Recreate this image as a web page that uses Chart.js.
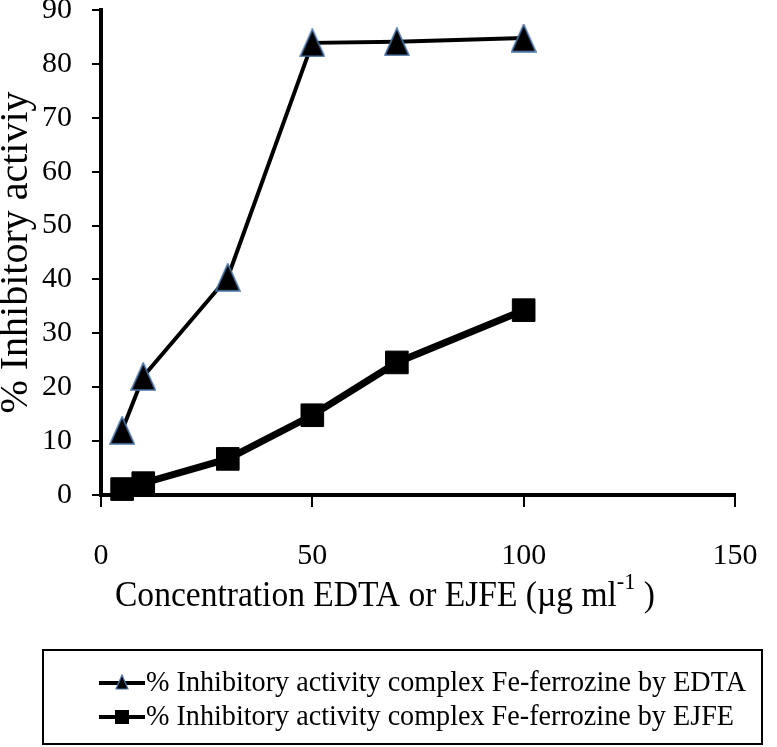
<!DOCTYPE html>
<html>
<head>
<meta charset="utf-8">
<script src="https://cdn.jsdelivr.net/npm/chart.js@4.4.1/dist/chart.umd.min.js"></script>
<style>
  html, body { margin: 0; padding: 0; background: #ffffff; }
  canvas { display: block; }
</style>
</head>
<body>
<canvas id="c" width="777" height="747"></canvas>
<script>
// ---- data ----
const concentrations = [5, 10, 30, 50, 70, 100];
const edtaValues = [12, 22, 40.4, 83.9, 84.1, 84.8];
const ejfeValues = [1.1, 2.2, 6.7, 14.8, 24.6, 34.3];
const xTicks = [0, 50, 100, 150];
const yTicks = [0, 10, 20, 30, 40, 50, 60, 70, 80, 90];
const seriesLabels = [
  '% Inhibitory activity complex Fe-ferrozine by EDTA',
  '% Inhibitory activity complex Fe-ferrozine by EJFE'
];
const yTitle = '% Inhibitory activiy';
const xTitleMain = 'Concentration EDTA or EJFE (\u00B5g ml';
const xTitleSup = '-1';
const xTitleEnd = ' )';

const SERIF = '"Liberation Serif", "Times New Roman", serif';

function triangleImage(w, h, lw) {
  const c = document.createElement('canvas');
  c.width = w + 2; c.height = h + 2;
  const g = c.getContext('2d');
  g.beginPath();
  g.moveTo(c.width / 2, 1);
  g.lineTo(c.width - 1, c.height - 1);
  g.lineTo(1, c.height - 1);
  g.closePath();
  g.fillStyle = '#000000';
  g.fill();
  g.lineWidth = lw;
  g.strokeStyle = '#4a73a6';
  g.stroke();
  return c;
}
const triMarker = triangleImage(24, 27, 1.6);
const triLegend = triangleImage(12, 14, 1.2);

const toPoints = (xs, ys) => xs.map((x, i) => ({ x: x, y: ys[i] }));

const extrasPlugin = {
  id: 'extras',
  afterDraw(chart) {
    const ctx = chart.ctx;
    ctx.save();
    // x axis title with superscript
    ctx.fillStyle = '#000';
    ctx.textBaseline = 'alphabetic';
    ctx.font = '36px ' + SERIF;
    const w1 = ctx.measureText(xTitleMain).width;
    ctx.font = '24px ' + SERIF;
    const w2 = ctx.measureText(xTitleSup).width;
    ctx.font = '36px ' + SERIF;
    const w3 = ctx.measureText(xTitleEnd).width;
    const total = w1 + w2 + w3;
    const sx = 540 / total;
    ctx.save();
    ctx.translate(115, 606);
    ctx.scale(sx, 1);
    ctx.textAlign = 'left';
    ctx.font = '36px ' + SERIF;
    ctx.fillText(xTitleMain, 0, 0);
    ctx.font = '24px ' + SERIF;
    ctx.fillText(xTitleSup, w1, -17);
    ctx.font = '36px ' + SERIF;
    ctx.fillText(xTitleEnd, w1 + w2, 0);
    ctx.restore();

    // legend box
    ctx.lineWidth = 2;
    ctx.strokeStyle = '#000';
    ctx.strokeRect(43, 650, 719, 94);
    const ds = chart.data.datasets;
    const rows = [683, 717];
    rows.forEach((ry, i) => {
      ctx.beginPath();
      ctx.moveTo(99, ry);
      ctx.lineTo(145, ry);
      ctx.lineWidth = 4;
      ctx.strokeStyle = '#000';
      ctx.stroke();
      if (i === 0) {
        ctx.drawImage(triLegend, 122 - triLegend.width / 2, ry - triLegend.height / 2 - 1);
      } else {
        ctx.fillStyle = '#000';
        ctx.fillRect(115, ry - 7, 14, 14);
      }
      ctx.fillStyle = '#000';
      ctx.font = '29px ' + SERIF;
      ctx.textBaseline = 'middle';
      ctx.textAlign = 'left';
      const tw = ctx.measureText(ds[i].label).width;
      const target = i === 0 ? 600 : 588;
      ctx.save();
      ctx.translate(146, ry);
      ctx.scale(target / tw, 1);
      ctx.fillText(ds[i].label, 0, 0);
      ctx.restore();
    });
    ctx.restore();
  }
};

new Chart(document.getElementById('c'), {
  type: 'line',
  data: {
    datasets: [
      {
        label: seriesLabels[0],
        data: toPoints(concentrations, edtaValues),
        borderColor: '#000000',
        borderWidth: 4,
        pointStyle: triMarker,
        pointRadius: 12,
        pointHoverRadius: 12,
        tension: 0,
        fill: false,
        clip: false
      },
      {
        label: seriesLabels[1],
        data: toPoints(concentrations, ejfeValues),
        borderColor: '#000000',
        borderWidth: 7,
        pointStyle: 'rect',
        pointRadius: 16,
        pointHoverRadius: 16,
        pointBackgroundColor: '#000000',
        pointBorderColor: '#000000',
        pointBorderWidth: 1,
        tension: 0,
        fill: false,
        clip: false
      }
    ]
  },
  options: {
    responsive: false,
    animation: false,
    devicePixelRatio: 1,
    layout: { autoPadding: false, padding: { top: 10, right: 42, bottom: 0, left: 0 } },
    plugins: {
      legend: { display: false },
      tooltip: { enabled: false }
    },
    scales: {
      x: {
        type: 'linear',
        min: 0,
        max: 150,
        afterBuildTicks: s => { s.ticks = xTicks.map(v => ({ value: v })); },
        afterFit: s => { s.height = 252; s.paddingLeft = 0; s.paddingRight = 0; },
        ticks: {
          color: '#000',
          font: { family: SERIF, size: 30 },
          padding: 31,
          maxRotation: 0
        },
        grid: {
          display: true,
          drawOnChartArea: false,
          drawTicks: true,
          tickLength: 12,
          color: '#000',
          lineWidth: 2
        },
        border: { display: true, color: '#000', width: 4 }
      },
      y: {
        type: 'linear',
        min: 0,
        max: 90,
        afterBuildTicks: s => { s.ticks = yTicks.map(v => ({ value: v })); },
        afterFit: s => { s.width = 101; s.paddingTop = 0; s.paddingBottom = 0; },
        ticks: {
          color: '#000',
          font: { family: SERIF, size: 30, lineHeight: 0.7 },
          padding: 20
        },
        grid: {
          display: true,
          drawOnChartArea: false,
          drawTicks: true,
          tickLength: 9,
          color: '#000',
          lineWidth: 2
        },
        border: { display: true, color: '#000', width: 4 },
        title: {
          display: true,
          text: yTitle,
          color: '#000',
          font: { family: SERIF, size: 40, lineHeight: 0.8 },
          padding: 0
        }
      }
    }
  },
  plugins: [extrasPlugin]
});
</script>
</body>
</html>
